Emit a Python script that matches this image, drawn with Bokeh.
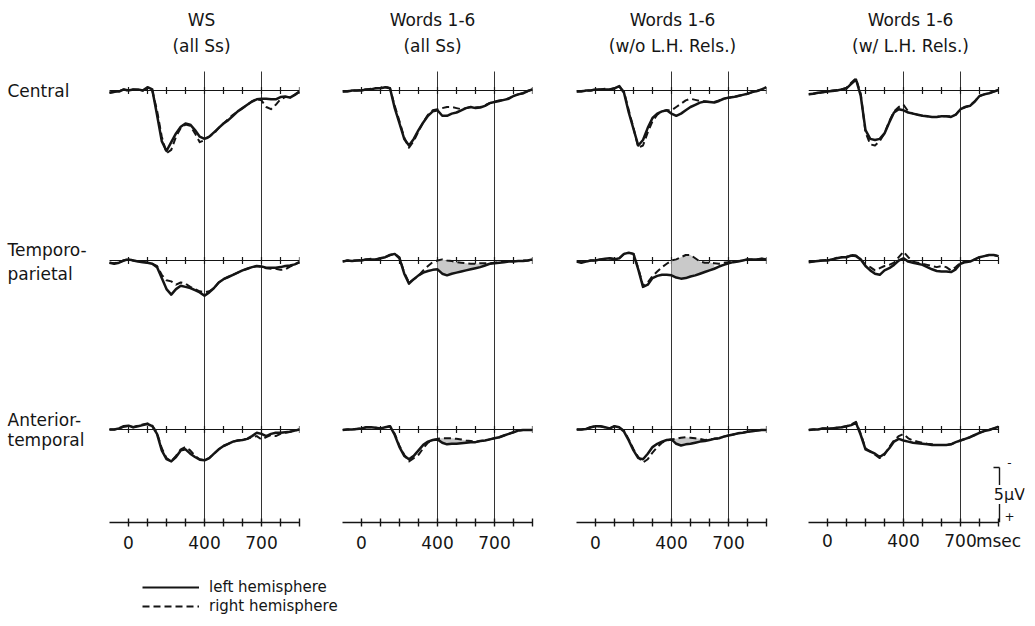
from bokeh.plotting import figure
from bokeh.models import Range1d, LinearAxis, FixedTicker, Label, Legend, LegendItem
from bokeh.layouts import row, column
from bokeh.embed import file_html
from bokeh.resources import INLINE

# ---------------- data (µV, positive plotted downward) ----------------
T = [-100, -75, -50, -25, 0, 25, 50, 75, 100, 125, 150, 175, 200, 225, 250, 275, 300,
     325, 350, 375, 400, 425, 450, 475, 500, 525, 550, 575, 600, 625, 650, 675, 700,
     725, 750, 775, 800, 825, 850, 875, 900]

COLUMN_TITLES = [("WS", "(all Ss)"), ("Words 1-6", "(all Ss)"),
                 ("Words 1-6", "(w/o L.H. Rels.)"), ("Words 1-6", "(w/ L.H. Rels.)")]
ROW_LABELS = [["Central"], ["Temporo-", "parietal"], ["Anterior-", "temporal"]]
TICKS = [0, 100, 200, 300, 400, 500, 600, 700, 800, 900]
TICK_LABELS = {0: "0", 400: "400", 700: "700"}
TICK_LABELS_LAST = {0: "0", 400: "400", 700: "700", 900: "msec"}
MARKERS = [400, 700]
CAL_UV = 5
CAL_TEXT = "5µV"
LEGEND_LABELS = ["left hemisphere", "right hemisphere"]

# Central
C1_L = [0.2, 0.1, 0.1, -0.1, 0.0, -0.1, -0.1, 0.0, -0.3, -0.1, 2.2, 4.6, 5.5, 4.7, 3.9, 3.3, 3.0,
        3.1, 3.6, 4.2, 4.4, 4.2, 3.8, 3.4, 3.0, 2.7, 2.3, 1.9, 1.6, 1.3, 1.0, 0.8, 0.75,
        0.75, 0.8, 0.8, 0.6, 0.55, 0.65, 0.4, 0.1]
C1_R = [0.2, 0.15, 0.05, -0.1, 0.05, -0.1, -0.05, 0.0, -0.2, 0.0, 1.8, 4.2, 5.7, 5.4, 4.2, 3.4, 3.1,
        3.2, 3.9, 4.7, 4.5, 4.2, 3.9, 3.4, 3.0, 2.6, 2.2, 1.9, 1.6, 1.3, 1.0, 0.8, 0.9,
        1.5, 1.7, 1.3, 0.8, 0.6, 0.6, 0.4, 0.1]
C2_L = [0.1, 0.1, 0.0, 0.0, 0.0, -0.1, -0.1, -0.2, -0.2, -0.3, -0.2, 1.6, 3.0, 4.4, 5.0, 4.4, 3.6,
        2.9, 2.3, 1.9, 1.8, 2.3, 2.3, 2.1, 2.0, 1.8, 1.6, 1.5, 1.6, 1.55, 1.4, 1.15, 1.05,
        0.95, 0.85, 0.75, 0.5, 0.35, 0.25, 0.05, -0.1]
C2_R = [0.1, 0.05, 0.0, 0.0, -0.05, -0.1, -0.15, -0.2, -0.25, -0.35, -0.2, 1.4, 2.8, 4.3, 5.2, 4.6, 3.7,
        2.9, 2.2, 1.8, 1.7, 1.6, 1.5, 1.5, 1.6, 1.7, 1.6, 1.5, 1.55, 1.5, 1.35, 1.15, 1.0,
        0.9, 0.85, 0.7, 0.5, 0.35, 0.25, 0.05, -0.1]
C3_L = [0.1, 0.1, 0.0, 0.0, -0.1, -0.1, -0.1, -0.1, -0.2, -0.4, 0.2, 2.0, 3.5, 5.0, 4.5, 3.4, 2.5,
        2.1, 1.9, 1.8, 2.1, 2.3, 2.1, 1.8, 1.5, 1.3, 1.1, 1.0, 1.05, 1.1, 0.95, 0.75, 0.65,
        0.6, 0.5, 0.4, 0.3, 0.15, 0.05, -0.1, -0.3]
C3_R = [0.1, 0.05, 0.0, 0.0, -0.1, -0.1, -0.15, -0.1, -0.2, -0.35, 0.1, 1.8, 3.4, 5.2, 5.0, 3.8, 2.8,
        2.2, 1.9, 1.8, 1.8, 1.5, 1.2, 0.9, 0.75, 0.85, 0.95, 1.0, 1.05, 1.05, 0.9, 0.75, 0.65,
        0.6, 0.5, 0.4, 0.3, 0.15, 0.05, -0.1, -0.3]
C4_L = [0.35, 0.3, 0.2, 0.15, 0.1, 0.05, 0.0, -0.1, -0.2, -0.6, -1.0, 0.5, 3.6, 4.4, 4.5, 4.4, 3.9,
        2.9, 2.0, 1.7, 1.8, 2.0, 2.1, 2.2, 2.3, 2.35, 2.4, 2.4, 2.35, 2.35, 2.4, 2.2, 1.7,
        1.5, 1.4, 1.0, 0.5, 0.35, 0.25, 0.1, -0.05]
C4_R = [0.35, 0.3, 0.25, 0.15, 0.1, 0.0, -0.05, -0.1, -0.25, -0.7, -1.1, 0.3, 3.8, 4.9, 5.0, 4.6, 3.9,
        2.8, 1.9, 1.5, 1.3, 1.9, 2.1, 2.2, 2.3, 2.35, 2.4, 2.4, 2.35, 2.35, 2.35, 2.2, 1.7,
        1.5, 1.35, 1.0, 0.5, 0.35, 0.25, 0.1, -0.05]

# Temporo-parietal
T1_L = [0.2, 0.3, 0.2, 0.0, -0.1, 0.0, 0.1, 0.15, 0.2, 0.3, 0.6, 1.6, 2.6, 3.1, 2.6, 2.3, 2.4,
        2.5, 2.7, 2.9, 3.2, 2.9, 2.5, 2.0, 1.7, 1.5, 1.3, 1.1, 0.9, 0.75, 0.6, 0.5, 0.55,
        0.65, 0.65, 0.65, 0.6, 0.5, 0.45, 0.35, 0.15]
T1_R = [0.2, 0.25, 0.15, 0.0, -0.15, 0.0, 0.05, 0.1, 0.2, 0.3, 0.5, 1.3, 1.8, 1.9, 2.2, 2.0, 2.1,
        2.4, 2.6, 2.8, 2.9, 2.8, 2.5, 2.0, 1.7, 1.5, 1.3, 1.1, 0.9, 0.75, 0.6, 0.5, 0.6,
        0.7, 0.75, 0.75, 0.85, 0.8, 0.55, 0.35, 0.15]
T2_L = [0.1, 0.0, 0.05, 0.0, 0.0, -0.1, -0.1, -0.1, -0.2, -0.3, -0.5, -0.6, -0.2, 1.2, 2.1, 1.7, 1.35,
        1.1, 0.95, 0.85, 0.8, 1.2, 1.35, 1.2, 1.1, 1.0, 0.9, 0.8, 0.7, 0.6, 0.45, 0.3, 0.25,
        0.2, 0.15, 0.1, 0.1, 0.05, 0.05, 0.0, -0.1]
T2_R = [0.1, 0.0, 0.0, 0.0, -0.05, -0.1, -0.15, -0.1, -0.2, -0.3, -0.5, -0.6, -0.3, 1.1, 2.0, 1.7, 1.4,
        0.9, 0.5, 0.15, 0.0, -0.1, 0.0, 0.05, 0.15, 0.2, 0.25, 0.3, 0.3, 0.25, 0.25, 0.25, 0.2,
        0.15, 0.1, 0.1, 0.05, 0.05, 0.0, 0.0, -0.1]
T3_L = [0.1, 0.2, 0.1, 0.0, 0.0, -0.1, -0.15, -0.2, -0.1, -0.2, -0.6, -0.7, -0.6, 0.8, 2.4, 2.2, 1.6,
        1.4, 1.3, 1.3, 1.35, 1.55, 1.65, 1.6, 1.45, 1.35, 1.2, 1.05, 0.9, 0.75, 0.55, 0.4, 0.25,
        0.15, 0.1, 0.0, -0.1, -0.1, -0.1, -0.15, -0.1]
T3_R = [0.1, 0.15, 0.1, 0.0, 0.0, -0.1, -0.1, -0.2, -0.15, -0.2, -0.6, -0.7, -0.6, 0.7, 2.3, 2.0, 1.4,
        1.0, 0.6, 0.3, 0.0, -0.1, -0.3, -0.5, -0.5, -0.2, 0.1, 0.2, 0.2, 0.25, 0.3, 0.2, 0.15,
        0.1, 0.05, 0.0, -0.1, -0.1, -0.1, -0.15, -0.1]
T4_L = [0.15, 0.1, 0.05, 0.0, 0.0, -0.1, -0.2, -0.3, -0.3, -0.45, -0.4, -0.1, 0.5, 0.9, 1.2, 1.3, 0.9,
        0.7, 0.4, 0.0, -0.2, 0.1, 0.2, 0.3, 0.4, 0.6, 0.8, 0.95, 1.0, 1.0, 1.05, 0.8, 0.3,
        0.15, 0.1, -0.1, -0.3, -0.4, -0.5, -0.5, -0.4]
T4_R = [0.1, 0.1, 0.0, 0.0, -0.05, -0.1, -0.25, -0.3, -0.35, -0.5, -0.45, -0.1, 0.4, 0.6, 0.9, 0.7, 0.5,
        0.4, 0.2, -0.3, -0.8, -0.3, 0.1, 0.2, 0.3, 0.4, 0.5, 0.6, 0.5, 0.6, 0.9, 0.6, 0.2,
        0.1, 0.05, -0.1, -0.3, -0.4, -0.5, -0.5, -0.4]

# Anterior-temporal
A1_L = [0.0, 0.0, -0.1, -0.3, -0.35, -0.2, -0.3, -0.4, -0.5, -0.3, 0.4, 1.9, 2.7, 2.9, 2.5, 1.9, 1.8,
        2.2, 2.5, 2.75, 2.8, 2.6, 2.2, 1.8, 1.5, 1.3, 1.1, 1.0, 0.95, 0.85, 0.6, 0.3, 0.4,
        0.6, 0.4, 0.3, 0.3, 0.25, 0.2, 0.1, 0.0]
A1_R = [0.0, 0.0, -0.1, -0.25, -0.3, -0.2, -0.35, -0.45, -0.55, -0.35, 0.3, 1.7, 2.6, 2.9, 2.4, 1.8, 1.6,
        1.9, 2.4, 2.7, 2.8, 2.6, 2.2, 1.8, 1.5, 1.3, 1.1, 1.0, 0.95, 0.85, 0.7, 0.6, 0.9,
        0.7, 0.5, 0.6, 0.4, 0.3, 0.2, 0.1, 0.0]
A2_L = [0.05, 0.0, 0.0, -0.05, -0.1, -0.2, -0.2, -0.15, -0.1, -0.2, -0.3, 0.5, 1.6, 2.4, 2.7, 2.4, 1.9,
        1.4, 1.1, 0.95, 0.9, 1.2, 1.35, 1.3, 1.3, 1.25, 1.2, 1.15, 1.15, 1.05, 1.0, 0.9, 0.8,
        0.7, 0.55, 0.4, 0.25, 0.1, 0.05, 0.05, 0.05]
A2_R = [0.05, 0.0, 0.0, -0.05, -0.1, -0.2, -0.2, -0.15, -0.1, -0.2, -0.3, 0.4, 1.5, 2.3, 2.9, 2.6, 2.3,
        1.7, 1.2, 0.95, 0.85, 0.8, 0.8, 0.8, 0.85, 0.9, 1.0, 1.05, 1.1, 1.05, 1.0, 0.9, 0.8,
        0.7, 0.55, 0.4, 0.25, 0.1, 0.05, 0.05, 0.05]
A3_L = [0.0, 0.0, -0.05, -0.2, -0.3, -0.3, -0.2, -0.1, -0.3, -0.2, 0.2, 1.0, 1.9, 2.6, 2.7, 2.2, 1.6,
        1.3, 1.1, 0.95, 0.9, 1.3, 1.45, 1.35, 1.3, 1.2, 1.1, 1.05, 0.95, 0.85, 0.8, 0.65, 0.55,
        0.45, 0.35, 0.3, 0.2, 0.15, 0.1, 0.05, 0.05]
A3_R = [0.0, 0.0, -0.05, -0.2, -0.3, -0.3, -0.2, -0.1, -0.3, -0.2, 0.1, 0.9, 1.8, 2.5, 3.0, 2.7, 2.1,
        1.6, 1.2, 1.0, 0.9, 0.85, 0.75, 0.7, 0.75, 0.8, 0.85, 0.95, 0.9, 0.85, 0.8, 0.65, 0.55,
        0.45, 0.35, 0.3, 0.2, 0.15, 0.1, 0.05, 0.05]
A4_L = [0.05, 0.0, 0.0, -0.1, -0.1, -0.1, -0.15, -0.2, -0.3, -0.4, -0.6, 0.5, 1.8, 2.0, 2.2, 2.5, 2.2,
        1.7, 1.1, 0.85, 1.0, 1.1, 1.2, 1.25, 1.3, 1.35, 1.4, 1.4, 1.4, 1.4, 1.35, 1.15, 1.0,
        0.85, 0.7, 0.5, 0.3, 0.15, 0.05, -0.1, -0.25]
A4_R = [0.05, 0.0, 0.0, -0.1, -0.1, -0.1, -0.15, -0.2, -0.3, -0.45, -0.7, 0.4, 1.7, 2.0, 2.3, 2.6, 2.3,
        1.6, 1.0, 0.6, 0.4, 0.8, 1.0, 1.1, 1.2, 1.3, 1.35, 1.4, 1.4, 1.4, 1.35, 1.15, 1.0,
        0.85, 0.7, 0.5, 0.3, 0.15, 0.05, -0.1, -0.25]

LEFT = [[C1_L, C2_L, C3_L, C4_L], [T1_L, T2_L, T3_L, T4_L], [A1_L, A2_L, A3_L, A4_L]]
RIGHT = [[C1_R, C2_R, C3_R, C4_R], [T1_R, T2_R, T3_R, T4_R], [A1_R, A2_R, A3_R, A4_R]]
# stippled (shaded) windows, ms: (row, col) -> (start, end)
SHADE = {(1, 1): (400, 675), (1, 2): (400, 625), (2, 1): (400, 600), (2, 2): (400, 600)}

# ---------------- layout (page pixels) ----------------
PX_MS = 0.19          # px per ms
PX_UV = 11.0          # px per µV
BASE_PX = [91, 261, 430]          # page y of each row baseline
FRAME_TOP_PX = 1
AXIS_PX = 523
FIG_H = 574
COLX = [110, 343, 577, 809]       # page x of -100 ms per column
# (figure left, frame left, frame right, figure right) in page px
COL_BOX = [(1, 4, 300, 321), (321, 343, 533, 555), (555, 577, 767, 788), (788, 809, 1025, 1026)]
TITLE_PX = [202, 433, 673, 911]
STANDOFF = [9, 9, 9, 4]

Y_TOP = (FRAME_TOP_PX - BASE_PX[0]) / PX_UV
Y_BOT = (AXIS_PX - BASE_PX[0]) / PX_UV
ROW_OFF = [(b - BASE_PX[0]) / PX_UV for b in BASE_PX]

FONT = "DejaVu Sans"
INK = "#151515"


def ydat(py):
    return (py - BASE_PX[0]) / PX_UV


def xdat(c, px):
    return -100 + (px - COLX[c]) / PX_MS


def label(p, x, y, text, size="17px", align="center", bg=None):
    lab = Label(x=x, y=y, text=text, text_font=FONT, text_font_size=size, text_color=INK,
                text_align=align, text_baseline="middle")
    if bg:
        lab.background_fill_color = bg
    p.add_layout(lab)


figs = []
for c in range(4):
    gl, fl, fr, gr = COL_BOX[c]
    p = figure(width=gr - gl, height=FIG_H,
               x_range=Range1d(xdat(c, fl), xdat(c, fr)), y_range=Range1d(Y_BOT, Y_TOP),
               x_axis_type=None, y_axis_type=None, toolbar_location=None,
               output_backend="svg", min_border_left=fl - gl, min_border_right=gr - fr,
               min_border_top=0, min_border_bottom=FIG_H - (AXIS_PX - FRAME_TOP_PX))
    p.outline_line_color = None
    p.background_fill_color = "white"
    p.border_fill_color = "white"

    labels = TICK_LABELS_LAST if c == 3 else TICK_LABELS
    ax = LinearAxis(ticker=FixedTicker(ticks=TICKS), bounds=(-100, 900),
                    major_label_overrides={t: labels.get(t, "") for t in TICKS})
    ax.axis_line_color = INK
    ax.axis_line_width = 1.6
    ax.major_tick_line_color = INK
    ax.major_tick_line_width = 1.4
    ax.major_tick_in = 4
    ax.major_tick_out = 4
    ax.minor_tick_line_color = None
    ax.major_label_standoff = STANDOFF[c]
    ax.major_label_text_font = FONT
    ax.major_label_text_font_size = "17px"
    ax.major_label_text_color = INK
    p.add_layout(ax, "below")

    # vertical reference lines at 400 and 700 ms
    p.segment(x0=MARKERS, x1=MARKERS, y0=[ydat(72)] * len(MARKERS), y1=[Y_BOT] * len(MARKERS),
              line_color="#333333", line_width=1)

    for r in range(3):
        off = ROW_OFF[r]
        # baseline with ticks
        p.line(x=[-100, 900], y=[off, off], line_color=INK, line_width=1)
        p.segment(x0=TICKS, x1=TICKS, y0=[off - 0.32] * len(TICKS), y1=[off + 0.32] * len(TICKS),
                  line_color=INK, line_width=1.2)
        lv = [v + off for v in LEFT[r][c]]
        rv = [v + off for v in RIGHT[r][c]]
        if (r, c) in SHADE:
            a, b = SHADE[(r, c)]
            idx = [i for i, t in enumerate(T) if a <= t <= b]
            p.varea(x=[T[i] for i in idx], y1=[rv[i] for i in idx], y2=[lv[i] for i in idx],
                    fill_color="#c9c9c9", fill_alpha=1.0)
        p.line(x=T, y=rv, line_color=INK, line_width=2.0, line_dash="7 4", line_join="round")
        p.line(x=T, y=lv, line_color=INK, line_width=2.5, line_join="round")

    # column titles
    label(p, xdat(c, TITLE_PX[c]), ydat(20), COLUMN_TITLES[c][0])
    label(p, xdat(c, TITLE_PX[c]), ydat(46), COLUMN_TITLES[c][1])
    figs.append(p)

# row labels (first column)
ROW_LABEL_Y = [[91], [250, 274], [420, 440]]
for r in range(3):
    for k, txt in enumerate(ROW_LABELS[r]):
        label(figs[0], xdat(0, 8), ydat(ROW_LABEL_Y[r][k]), txt, align="left")

# calibration bar and units (last column)
p4 = figs[3]
cal_x = xdat(3, 1000)
p4.segment(x0=[cal_x, xdat(3, 994)], x1=[cal_x, cal_x], y0=[Y_BOT - CAL_UV, Y_BOT - CAL_UV],
           y1=[Y_BOT, Y_BOT - CAL_UV], line_color=INK, line_width=1.4)
label(p4, xdat(3, 1010), ydat(495), CAL_TEXT, size="16px", bg="white")
label(p4, xdat(3, 1010), ydat(463), "-", size="12px")
label(p4, xdat(3, 1010), ydat(517), "+", size="12px")

# legend
lf = figure(width=420, height=41, x_range=Range1d(0, 1), y_range=Range1d(0, 1),
            x_axis_type=None, y_axis_type=None, toolbar_location=None,
            output_backend="svg", min_border=0)
lf.outline_line_color = None
r1 = lf.line(x=[5, 6], y=[5, 5], line_color=INK, line_width=2.2)
r2 = lf.line(x=[5, 6], y=[5, 5], line_color=INK, line_width=2.0, line_dash="7 4")
leg = Legend(items=[LegendItem(label=LEGEND_LABELS[0], renderers=[r1]),
                    LegendItem(label=LEGEND_LABELS[1], renderers=[r2])],
             location=(142, 0), orientation="vertical", glyph_width=57, glyph_height=16,
             label_height=16, spacing=1, padding=0, margin=0, label_standoff=10,
             border_line_color=None, background_fill_alpha=0,
             label_text_font=FONT, label_text_font_size="15px", label_text_color=INK)
lf.add_layout(leg)

layout = column(row(*figs), lf)
open("out.html", "w").write(file_html(layout, INLINE))
